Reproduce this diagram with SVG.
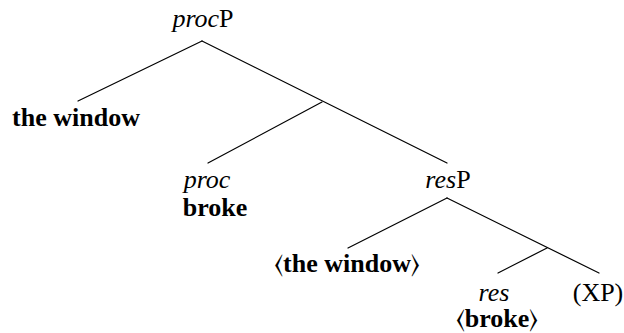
<svg xmlns="http://www.w3.org/2000/svg" width="624" height="333" viewBox="0 0 624 333">
  <style>
    .edge { stroke: #000; stroke-width: 1.2; fill: none; stroke-linecap: round; }
    .t { font-family: 'Liberation Serif', Tinos, 'Times New Roman', Times, 'Nimbus Roman', FreeSerif, 'DejaVu Serif', serif; font-size: 26px; fill: #000; text-anchor: middle; }
    .it { font-style: italic; }
    .b { font-weight: bold; }
  </style>
  <rect width="624" height="333" fill="#fff"/>
  <g id="connectors">
    <line class="edge" x1="202" y1="41" x2="78" y2="101"/>
    <line class="edge" x1="202" y1="41" x2="447" y2="163"/>
    <line class="edge" x1="322" y1="102" x2="208" y2="163"/>
    <line class="edge" x1="447" y1="198" x2="348" y2="248"/>
    <line class="edge" x1="447" y1="198" x2="599" y2="273"/>
    <line class="edge" x1="547" y1="248" x2="498" y2="273"/>
  </g>
  <g id="procP"><text class="t" x="203" y="27"><tspan class="it">proc</tspan>P</text></g>
  <g id="spec"><text class="t b" x="76" y="126">the window</text></g>
  <g id="proc">
    <text class="t it" x="207" y="188">proc</text>
    <text class="t b" x="215" y="216">broke</text>
  </g>
  <g id="resP"><text class="t" x="448" y="188"><tspan class="it">res</tspan>P</text></g>
  <g id="spec2"><text class="t" x="347" y="272">⟨<tspan class="b">the window</tspan>⟩</text></g>
  <g id="res">
    <text class="t it" x="494" y="301">res</text>
    <text class="t" x="497" y="327">⟨<tspan class="b">broke</tspan>⟩</text>
  </g>
  <g id="XP"><text class="t" x="598" y="301">(XP)</text></g>
</svg>
